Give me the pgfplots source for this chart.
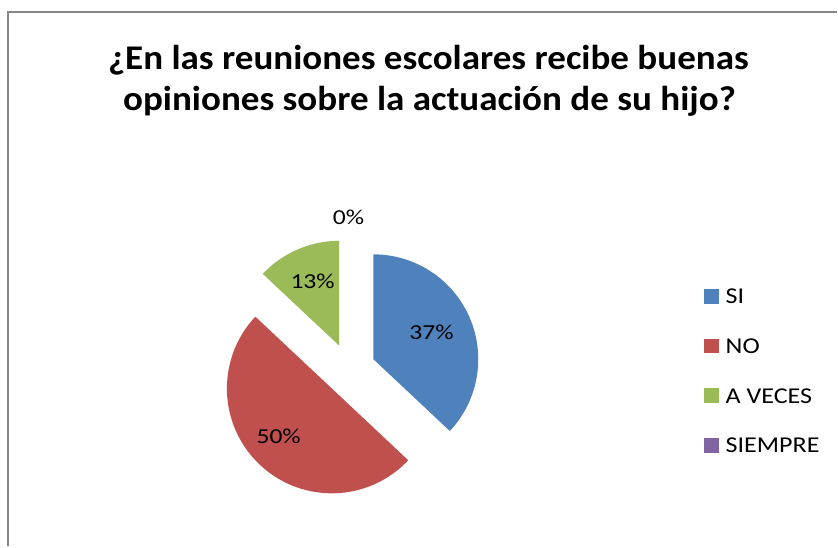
\documentclass[border=0pt]{standalone}
\usepackage{pgfplots}
\pgfplotsset{compat=1.18}
\usepackage{fontspec}
\setmainfont{Carlito}
\newfontfamily\titlefont{Carlito}[FakeStretch=1.07]
\newfontfamily\legfont{Carlito}[FakeStretch=1.15]
\newfontfamily\labfont{Carlito}[FakeStretch=1.2]
\definecolor{cSI}{HTML}{4F81BD}
\definecolor{cNO}{HTML}{C0504D}
\definecolor{cAV}{HTML}{9BBB59}
\definecolor{cSP}{HTML}{8064A2}
\definecolor{frame}{HTML}{868686}
% values (percent)
\def\vSI{37}
\def\vNO{50}
\def\vAV{13}
\def\vSP{0}
% geometry in pixel units
\def\cx{350}
\def\cy{177}
\def\R{105}
\def\ex{26}
\pgfmathsetmacro\aA{90}
\pgfmathsetmacro\aB{\aA-3.6*\vSI}
\pgfmathsetmacro\aC{\aB-3.6*\vNO}
\pgfmathsetmacro\aD{\aC-3.6*\vAV}
\pgfmathsetmacro\mSI{(\aA+\aB)/2}
\pgfmathsetmacro\mNO{(\aB+\aC)/2}
\pgfmathsetmacro\mAV{(\aC+\aD)/2}
\pgfmathsetmacro\xSI{\cx+\ex*cos(\mSI)}\pgfmathsetmacro\ySI{\cy+\ex*sin(\mSI)}
\pgfmathsetmacro\xNO{\cx+\ex*cos(\mNO)}\pgfmathsetmacro\yNO{\cy+\ex*sin(\mNO)}
\pgfmathsetmacro\xAV{\cx+\ex*cos(\mAV)}\pgfmathsetmacro\yAV{\cy+\ex*sin(\mAV)}
\begin{document}
\begin{tikzpicture}
\begin{axis}[
  scale only axis, width=628.5pt, height=410.25pt,
  xmin=0, xmax=838, ymin=0, ymax=547,
  hide axis, clip=false,
  legend image code/.code={\fill[#1, draw=none] (0pt,-5.6pt) rectangle (11.25pt,5.6pt); \path[draw=none, fill=none] (16pt,0pt);},
  legend style={at={(axis cs:705,258)}, anchor=north west, draw=none, fill=none,
    font=\legfont\fontsize{17}{20}\selectfont, row sep=26pt, inner sep=0pt,
    nodes={inner sep=0pt, text height=11.25pt, text depth=0pt}},
  legend cell align=left,
]
\path (axis cs:0,0) rectangle (axis cs:838,547);
\addplot[fill=cSI, draw=none, domain=\aB:\aA, samples=90, variable=\t, forget plot]
  ({\xSI+\R*cos(\t)}, {\ySI+\R*sin(\t)}) -- (axis cs:\xSI,\ySI) -- cycle;
\addplot[fill=cNO, draw=none, domain=\aC:\aB, samples=120, variable=\t, forget plot]
  ({\xNO+\R*cos(\t)}, {\yNO+\R*sin(\t)}) -- (axis cs:\xNO,\yNO) -- cycle;
\addplot[fill=cAV, draw=none, domain=\aD:\aC, samples=40, variable=\t, forget plot]
  ({\xAV+\R*cos(\t)}, {\yAV+\R*sin(\t)}) -- (axis cs:\xAV,\yAV) -- cycle;
\addlegendimage{fill=cSI}\addlegendentry{SI}
\addlegendimage{fill=cNO}\addlegendentry{NO}
\addlegendimage{fill=cAV}\addlegendentry{A VECES}
\addlegendimage{fill=cSP}\addlegendentry{SIEMPRE}
% frame
\draw[frame, line width=1.6pt] (axis cs:8,0) -- (axis cs:8,535) -- (axis cs:838,535);
% title
\node[anchor=base, font=\titlefont\bfseries\fontsize{26}{30}\selectfont] at (axis cs:429,477.7) {¿En las reuniones escolares recibe buenas};
\node[anchor=base, font=\titlefont\bfseries\fontsize{26}{30}\selectfont] at (axis cs:430,436) {opiniones sobre la actuación de su hijo?};
% data labels
\node[font=\labfont\fontsize{16}{19}\selectfont] at (axis cs:432,214) {37\%};
\node[font=\labfont\fontsize{16}{19}\selectfont] at (axis cs:279,110) {50\%};
\node[font=\labfont\fontsize{16}{19}\selectfont] at (axis cs:313,265) {13\%};
\node[font=\labfont\fontsize{16}{19}\selectfont] at (axis cs:349,329) {0\%};
\end{axis}
\end{tikzpicture}
\end{document}
